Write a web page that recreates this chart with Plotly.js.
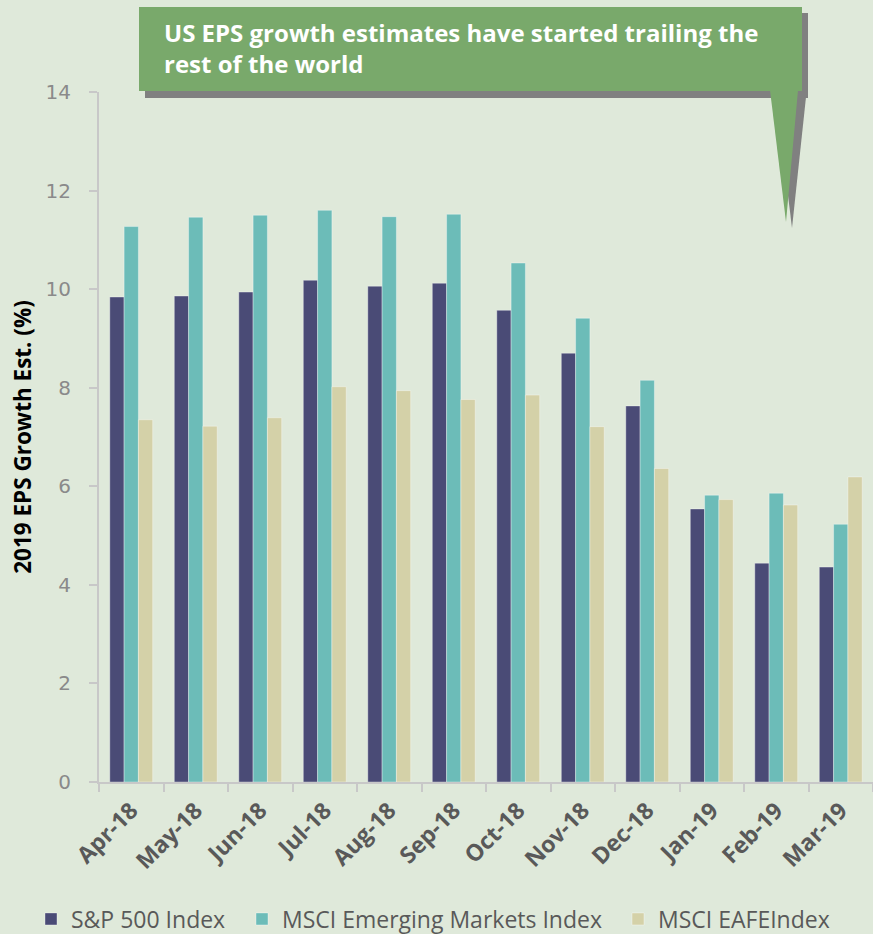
<!DOCTYPE html>
<html>
<head>
<meta charset="utf-8">
<script src="https://cdn.plot.ly/plotly-3.0.1.min.js"></script>
<style>html,body{margin:0;padding:0;background:#dfe9da;}</style>
</head>
<body>
<div id="chart" style="width:873px;height:934px;"></div>
<script>
const months = ["Apr-18","May-18","Jun-18","Jul-18","Aug-18","Sep-18","Oct-18","Nov-18","Dec-18","Jan-19","Feb-19","Mar-19"];
const sp500 = [9.84, 9.86, 9.94, 10.18, 10.06, 10.12, 9.57, 8.70, 7.63, 5.54, 4.44, 4.36];
const msciEM = [11.27, 11.46, 11.50, 11.60, 11.47, 11.52, 10.53, 9.41, 8.15, 5.82, 5.86, 5.23];
const msciEAFE = [7.35, 7.22, 7.39, 8.02, 7.94, 7.76, 7.85, 7.21, 6.36, 5.73, 5.62, 6.19];
const seriesNames = ["S&P 500 Index", "MSCI Emerging Markets Index", "MSCI EAFEIndex"];
const calloutText = "US EPS growth estimates have started trailing the<br>rest of the world";
const yTitle = "2019 EPS Growth Est. (%)";

const colors = ["#4a4b76", "#6cbcb8", "#d4d1a8"];
const font = "'Open Sans', Lato, sans-serif";
const legendIds = ["legend", "legend2", "legend3"];
const legendX = [31, 242, 618];

const traces = [sp500, msciEM, msciEAFE].map((vals, i) => ({
  type: "bar",
  x: months,
  y: vals,
  name: seriesNames[i],
  legend: legendIds[i],
  marker: {color: colors[i], line: {color: "rgba(255,255,255,0.35)", width: 1}},
  hoverinfo: "skip"
}));

// pixel -> paper helpers (plot area: x 99..873, y 92..782)
const W = 873, H = 934;
const L = 99, R = 873, T = 92, B = 782;
const px = x => (x - L) / (R - L);
const py = y => (B - y) / (B - T);
const pathOf = pts => "M" + pts.map(p => px(p[0]) + "," + py(p[1])).join(" L") + " Z";

const shapes = [
  {type: "rect", xref: "paper", yref: "paper", x0: px(145), x1: px(808), y0: py(98), y1: py(13),
   fillcolor: "#808080", line: {width: 0}, layer: "above"},
  {type: "path", xref: "paper", yref: "paper", path: pathOf([[776, 97], [806, 97], [792, 228]]),
   fillcolor: "#808080", line: {width: 0}, layer: "above"},
  {type: "rect", xref: "paper", yref: "paper", x0: px(139), x1: px(802), y0: py(91), y1: py(7),
   fillcolor: "#79a96b", line: {width: 0}, layer: "above"},
  {type: "path", xref: "paper", yref: "paper", path: pathOf([[770, 90], [798, 90], [786, 222]]),
   fillcolor: "#79a96b", line: {width: 0}, layer: "above"}
];

const layout = {
  width: W, height: H,
  margin: {l: L, r: W - R, t: T, b: H - B, autoexpand: false},
  paper_bgcolor: "#dfe9da",
  plot_bgcolor: "#dfe9da",
  barmode: "group",
  bargap: 0.335,
  bargroupgap: 0,
  font: {family: font, color: "#595959"},
  showlegend: true,
  xaxis: {
    type: "category",
    automargin: false,
    tickangle: -45,
    tickson: "boundaries",
    ticks: "outside", ticklen: 8, tickcolor: "#c8c8c8", tickwidth: 2,
    ticklabelstandoff: 4,
    showline: true, linecolor: "#c8c8c8", linewidth: 2,
    showgrid: false, zeroline: false,
    tickfont: {size: 23, color: "#595959", family: font, weight: "bold"}
  },
  yaxis: {
    automargin: false,
    range: [0, 14],
    dtick: 2,
    ticks: "outside", ticklen: 8, tickcolor: "#c8c8c8", tickwidth: 2,
    ticklabelstandoff: 14,
    showline: true, linecolor: "#c8c8c8", linewidth: 2,
    showgrid: false, zeroline: false,
    tickfont: {size: 20, color: "#8a8a8a", family: "'DejaVu Sans', Verdana, sans-serif"},
    title: {text: yTitle, font: {size: 22.5, color: "#000000", family: font, weight: "bold"}, standoff: 8}
  },
  shapes: shapes,
  annotations: [{
    xref: "paper", yref: "paper", x: px(162), y: py(14), xanchor: "left", yanchor: "top",
    text: calloutText, showarrow: false, align: "left",
    font: {size: 24, color: "#ffffff", family: font, weight: "bold"}
  }]
};

legendIds.forEach((id, i) => {
  layout[id] = {orientation: "h", xref: "container", yref: "container",
    x: legendX[i] / W, xanchor: "left", y: (H - 919) / H, yanchor: "middle",
    font: {size: 23, color: "#595959", family: font}, itemwidth: 30,
    bgcolor: "rgba(0,0,0,0)"};
});

Plotly.newPlot("chart", traces, layout, {displayModeBar: false, staticPlot: true});
</script>
</body>
</html>
